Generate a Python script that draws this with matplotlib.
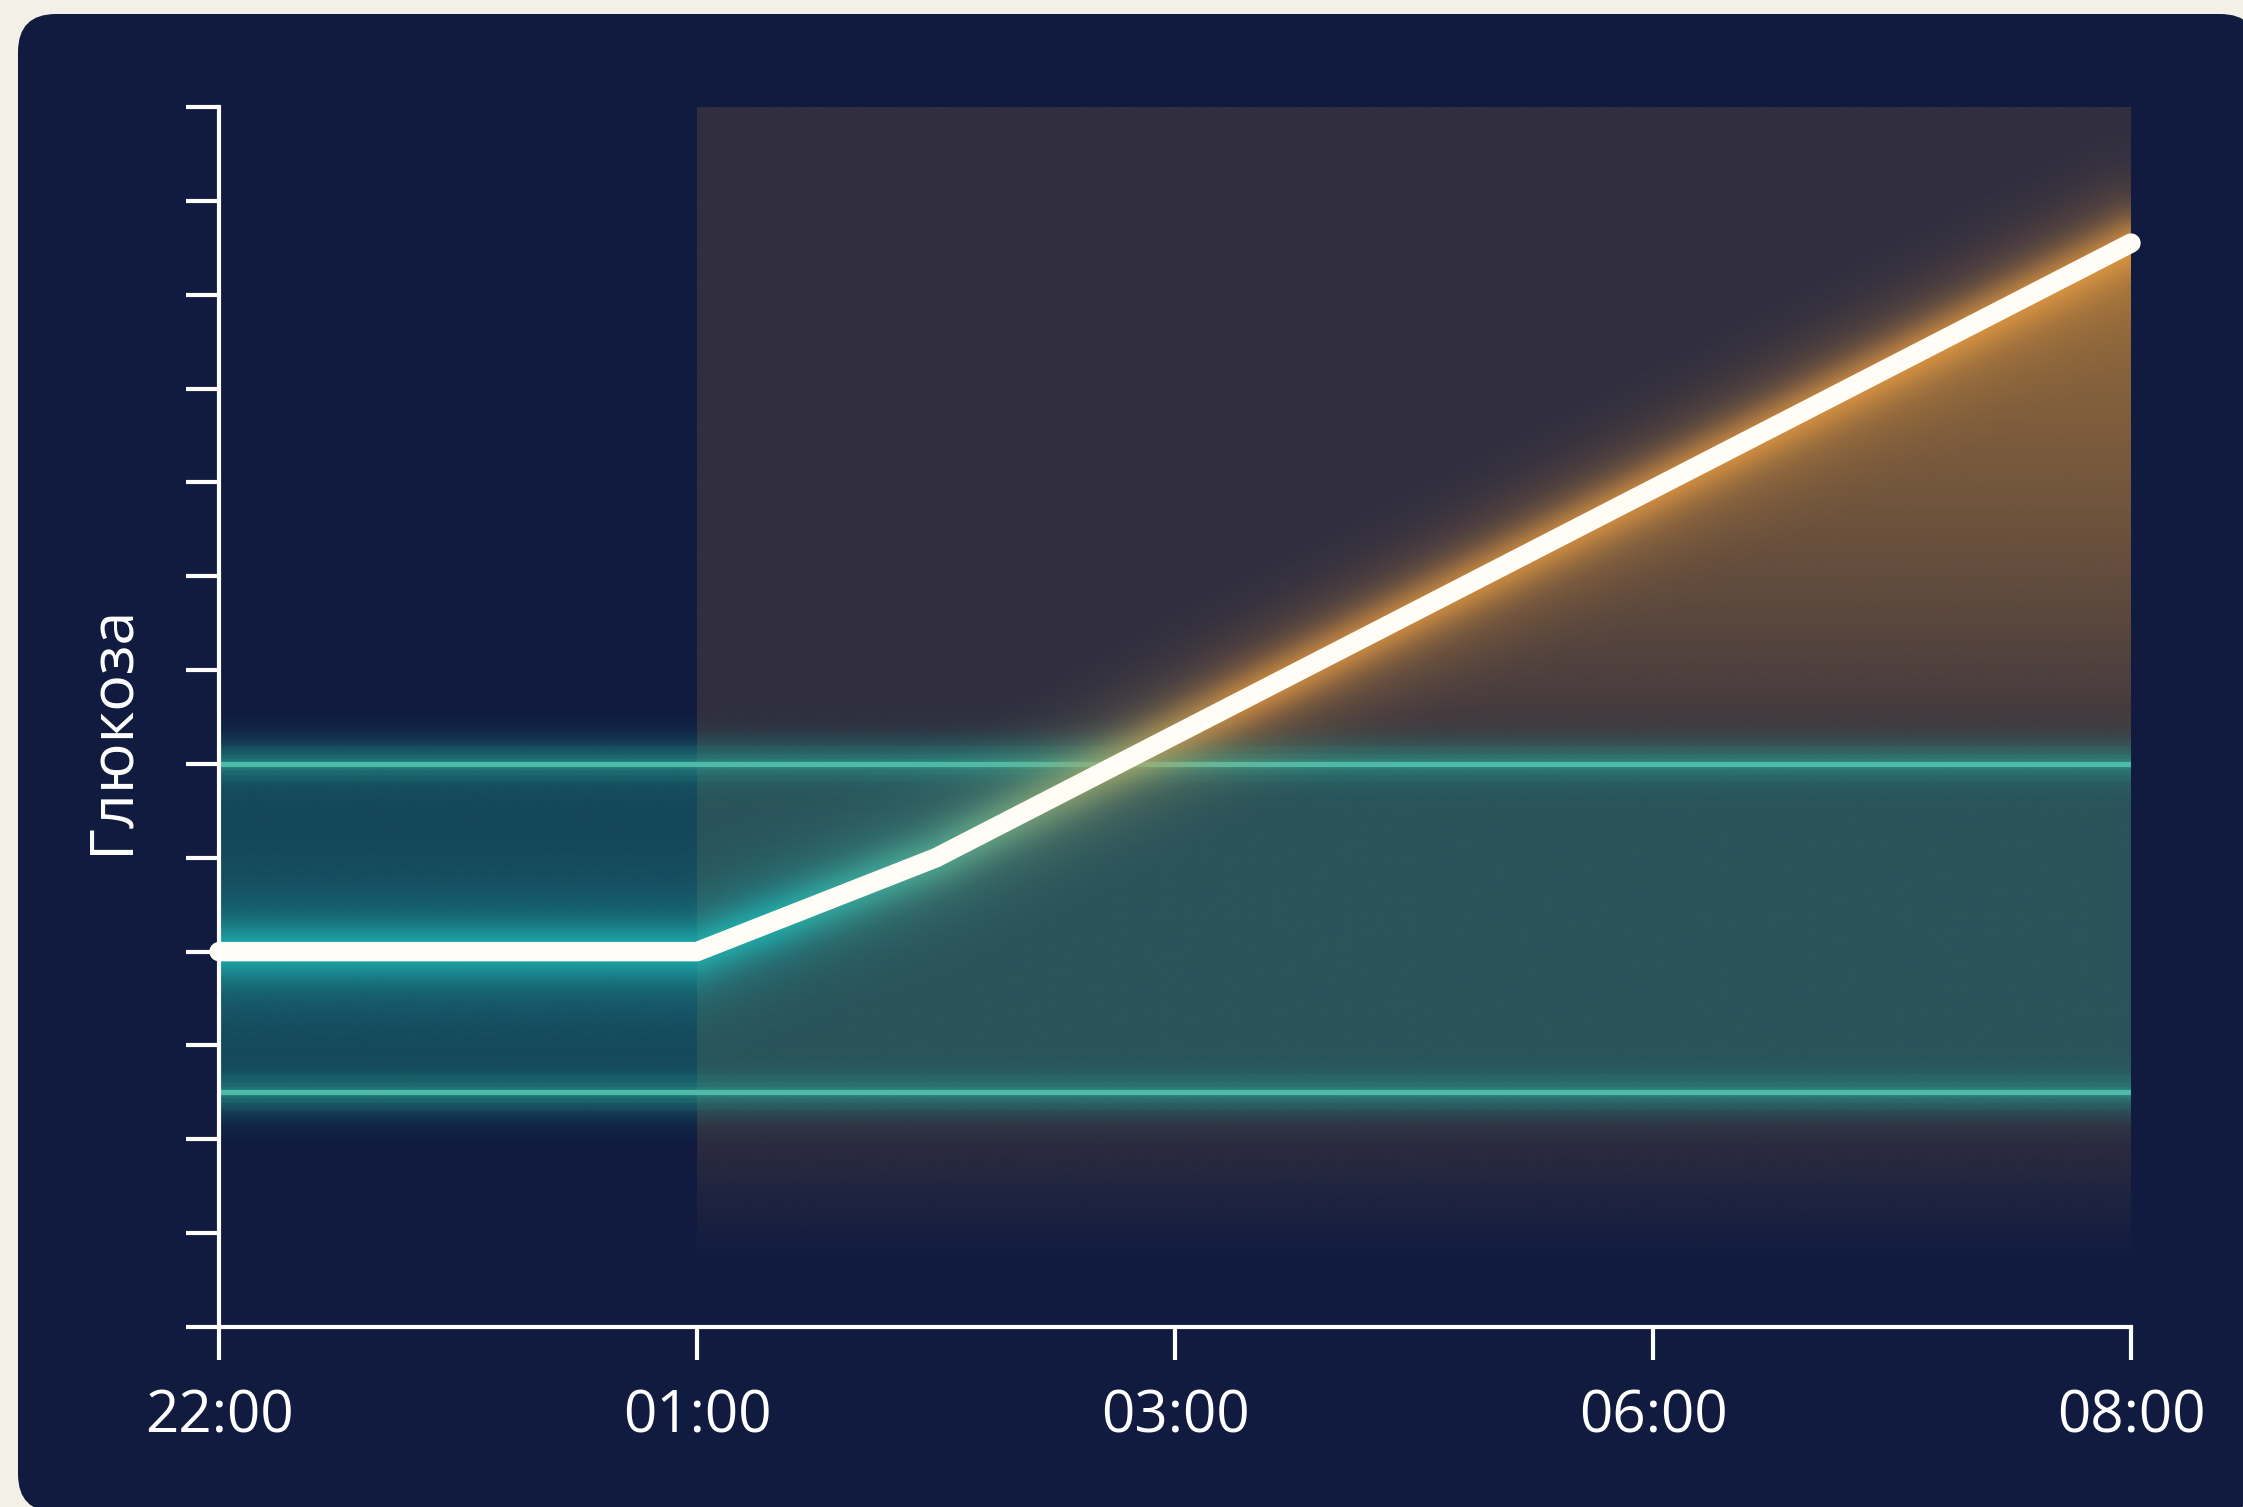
import numpy as np
import matplotlib
matplotlib.use("Agg")
import matplotlib.pyplot as plt
from matplotlib.patches import FancyBboxPatch
from matplotlib.colors import to_rgb

plt.rcParams['font.family'] = ['Open Sans', 'DejaVu Sans']

# data
time_labels = ['22:00', '01:00', '03:00', '06:00', '08:00']
time_pos = [0, 1, 2, 3, 4]
glucose_x = [0, 1, 1.5, 4]
glucose_y = [4.0, 4.0, 5.0, 11.55]
target_low = 2.5
target_high = 6.0
night_start = 1
night_end = 4
y_max = 13

NAVY = '#101b3f'
CREAM = '#f2f0e7'
TEAL = '#1f9a8e'
TEAL_LINE = '#4cbba8'
ORANGE = '#c98a3a'
GLOW_TEAL = np.array(to_rgb('#1fc4c0'))
GLOW_ORANGE = np.array(to_rgb('#eea043'))

W, H = 2243, 1507
AX_L, AX_R, AX_T, AX_B = 219, 2131, 107, 1327
fig = plt.figure(figsize=(W / 100, H / 100), dpi=100, facecolor=CREAM)

# rounded dark panel
bg = fig.add_axes([0, 0, 1, 1])
bg.set_xlim(0, W)
bg.set_ylim(H, 0)
bg.axis('off')
bg.add_patch(FancyBboxPatch((18, 14), 2240, 1498,
                            boxstyle='round,pad=0,rounding_size=38',
                            fc=NAVY, ec='none'))

ax = fig.add_axes([AX_L / W, 1 - AX_B / H, (AX_R - AX_L) / W, (AX_B - AX_T) / H])
ax.set_facecolor('none')
ax.set_xlim(0, 4)
ax.set_ylim(0, y_max)

px_x = (AX_R - AX_L) / 4.0       # pixels per x unit
px_y = (AX_B - AX_T) / y_max     # pixels per y unit


def vgrad(color, y0, y1, alpha_fn, x0, x1, z, n=400):
    ys = np.linspace(y0, y1, n)
    img = np.zeros((n, 1, 4))
    img[:, 0, :3] = to_rgb(color)
    img[:, 0, 3] = alpha_fn(ys)
    return ax.imshow(img, extent=[x0, x1, y0, y1], origin='lower',
                     aspect='auto', interpolation='bilinear', zorder=z)


# night shading
vgrad('#302e3f', 0.5, y_max,
      lambda y: np.clip((y - 0.6) / 1.5, 0, 1) ** 1.2,
      night_start, night_end, 1)


# target band glow
def band_alpha(y):
    a = np.where((y >= target_low) & (y <= target_high), 0.35, 0.0)
    d = np.where(y > target_high, y - target_high,
                 np.where(y < target_low, target_low - y, 0))
    a = a + np.where(d > 0, 0.35 * np.exp(-(d / 0.3) ** 2), 0)
    a = a + 0.22 * np.exp(-((y - target_high) / 0.22) ** 2)
    a = a + 0.2 * np.exp(-((y - target_low) / 0.22) ** 2)
    return np.clip(a, 0, 1)


vgrad(TEAL, 1.2, 7.4, band_alpha, 0, 4, 2)

# orange area under the rising line
fb = ax.fill_between(glucose_x, glucose_y, target_high,
                     where=np.array(glucose_y) > target_high,
                     interpolate=True, color='none', lw=0)
clip = fb.get_paths()[0]
og = vgrad(ORANGE, target_high, y_max,
           lambda y: 0.64 * np.clip((y - 5.9) / 5.0, 0, 1) ** 0.75,
           0, 4, 3)
og.set_clip_path(clip, transform=ax.transData)

# target lines
for yv in (target_low, target_high):
    for lw, a in ((26, 0.05), (15, 0.08), (8, 0.12)):
        ax.plot([0, 4], [yv, yv], color=TEAL_LINE, lw=lw, alpha=a,
                solid_capstyle='butt', zorder=4)
    ax.plot([0, 4], [yv, yv], color=TEAL_LINE, lw=3.8, zorder=4)

# soft glow around the glucose line (distance field in pixel units)
gx = np.linspace(-0.05, 4.05, 1000)
gy = np.linspace(0, y_max, 640)
GX, GY = np.meshgrid(gx, gy)
best_d = np.full(GX.shape, np.inf)
best_y = np.zeros(GX.shape)
for i in range(len(glucose_x) - 1):
    ax0, ay0 = glucose_x[i] * px_x, glucose_y[i] * px_y
    ax1, ay1 = glucose_x[i + 1] * px_x, glucose_y[i + 1] * px_y
    vx, vy = ax1 - ax0, ay1 - ay0
    t = ((GX * px_x - ax0) * vx + (GY * px_y - ay0) * vy) / (vx * vx + vy * vy)
    t = np.clip(t, 0, 1)
    nx, ny = ax0 + t * vx, ay0 + t * vy
    d = np.hypot(GX * px_x - nx, GY * px_y - ny)
    m = d < best_d
    best_d[m] = d[m]
    best_y[m] = ny[m] / px_y
mix = np.clip((best_y - 4.3) / 2.4, 0, 1)[..., None]
glow = np.zeros(GX.shape + (4,))
glow[..., :3] = GLOW_TEAL * (1 - mix) + GLOW_ORANGE * mix
glow[..., 3] = np.clip(0.5 * np.exp(-(best_d / 26) ** 2)
                       + 0.3 * np.exp(-(best_d / 60) ** 2), 0, 1)
ax.imshow(glow, extent=[gx[0], gx[-1], 0, y_max], origin='lower',
          aspect='auto', interpolation='bilinear', zorder=5)
ax.set_xlim(0, 4)

ax.plot(glucose_x, glucose_y, color='#fffdf6', lw=14,
        solid_capstyle='round', solid_joinstyle='round', zorder=6, clip_on=False)

# axes styling
for s in ('top', 'right'):
    ax.spines[s].set_visible(False)
for s in ('left', 'bottom'):
    ax.spines[s].set_color('white')
    ax.spines[s].set_linewidth(3)
    ax.spines[s].set_zorder(7)
ax.set_xticks(time_pos)
ax.set_xticklabels(time_labels)
ax.set_yticks(range(0, y_max + 1))
ax.set_yticklabels([])
ax.tick_params(axis='both', colors='white', length=24, width=3)
ax.tick_params(axis='x', labelsize=42, pad=20, labelcolor='white')

ax.set_ylabel('Глюкоза', color='white', fontsize=44)
ax.yaxis.set_label_coords(-0.056, 0.49)
ax.yaxis.label.set_va('center')

fig.savefig('out.png', dpi=100, facecolor=CREAM)
